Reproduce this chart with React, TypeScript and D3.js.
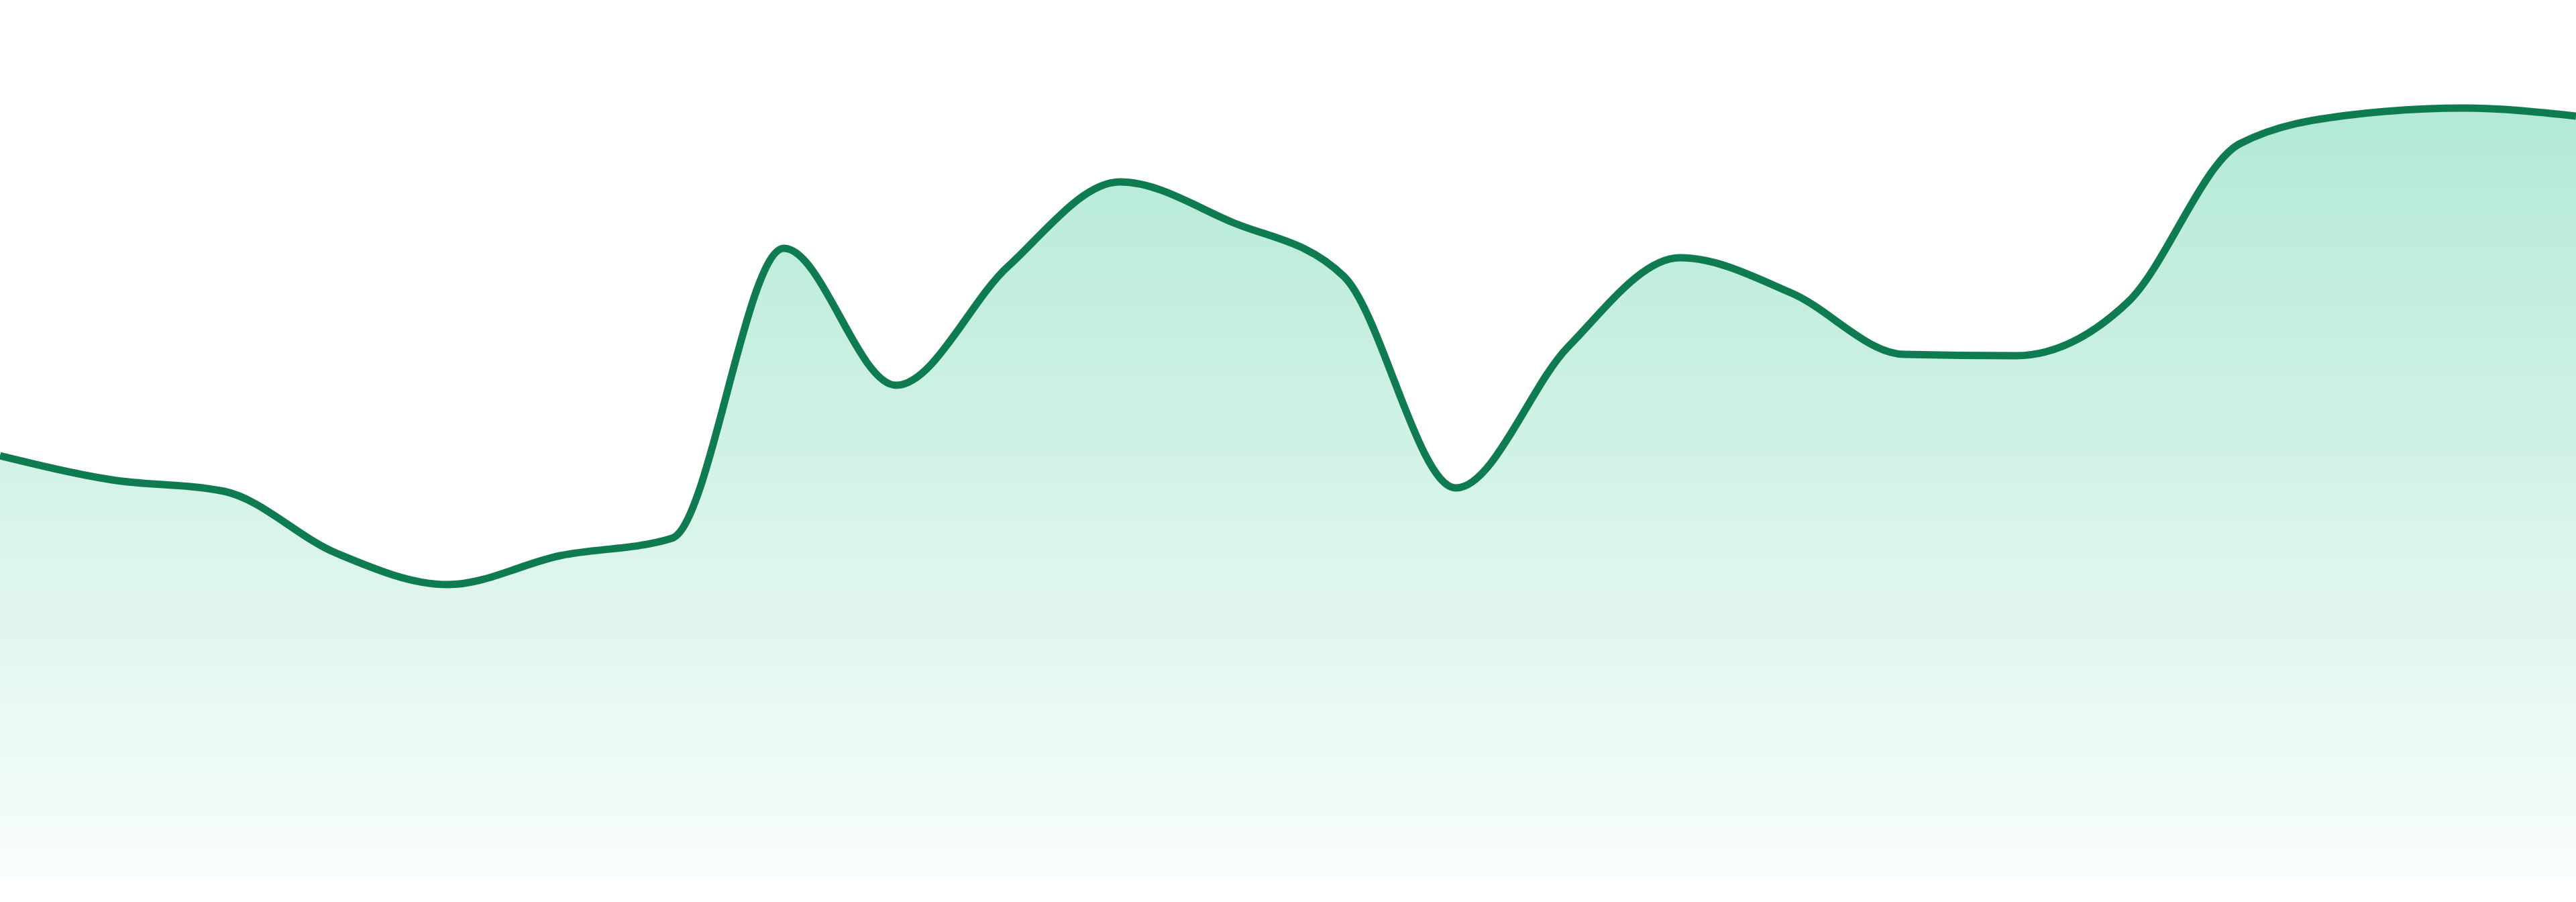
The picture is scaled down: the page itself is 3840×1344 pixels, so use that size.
import React, { useRef, useEffect } from 'react';
import * as d3 from 'd3';

const WIDTH = 3840;
const HEIGHT = 1344;
const BOTTOM = 1306;
const TOP = 56;

// 24 evenly spaced samples
const steps: number[] = d3.range(24);
const values: number[] = [
  62.7, 59.1, 57.4, 48.2, 43.5, 47.8, 50.4, 93.6, 73.2, 90.9, 103.5, 97.5,
  89.4, 57.9, 78.9, 92.2, 86.9, 77.8, 77.6, 85.6, 109.2, 113.5, 114.5, 113.3,
];
const yDomain: [number, number] = [0, 125];

const LINE = '#0f7b51';
const FILL = '#10b981';

const App: React.FC = () => {
  const svgRef = useRef<SVGSVGElement>(null);

  useEffect(() => {
    if (!svgRef.current) return;
    const svg = d3.select(svgRef.current);
    svg.selectAll('*').remove();

    const x = d3.scaleLinear().domain([0, steps.length - 1]).range([0, WIDTH]);
    const y = d3.scaleLinear().domain(yDomain).range([BOTTOM, TOP]);

    // soft green fade under the line
    const grad = svg
      .append('defs')
      .append('linearGradient')
      .attr('id', 'areaFade')
      .attr('x1', 0)
      .attr('y1', 0)
      .attr('x2', 0)
      .attr('y2', 1);
    grad.append('stop').attr('offset', '0%').attr('stop-color', FILL).attr('stop-opacity', 0.32);
    grad.append('stop').attr('offset', '100%').attr('stop-color', FILL).attr('stop-opacity', 0.03);

    const area = d3
      .area<number>()
      .x((_, i) => x(steps[i]))
      .y0(BOTTOM)
      .y1((d) => y(d))
      .curve(d3.curveMonotoneX);

    const line = d3
      .line<number>()
      .x((_, i) => x(steps[i]))
      .y((d) => y(d))
      .curve(d3.curveMonotoneX);

    svg.append('path').attr('d', area(values) ?? '').attr('fill', 'url(#areaFade)');

    svg
      .append('path')
      .attr('d', line(values) ?? '')
      .attr('fill', 'none')
      .attr('stroke', LINE)
      .attr('stroke-width', 11)
      .attr('stroke-linejoin', 'round');
  }, []);

  return (
    <svg
      ref={svgRef}
      width={WIDTH}
      height={HEIGHT}
      style={{ position: 'absolute', left: 0, top: 0, display: 'block', background: '#fff' }}
    />
  );
};

export default App;
